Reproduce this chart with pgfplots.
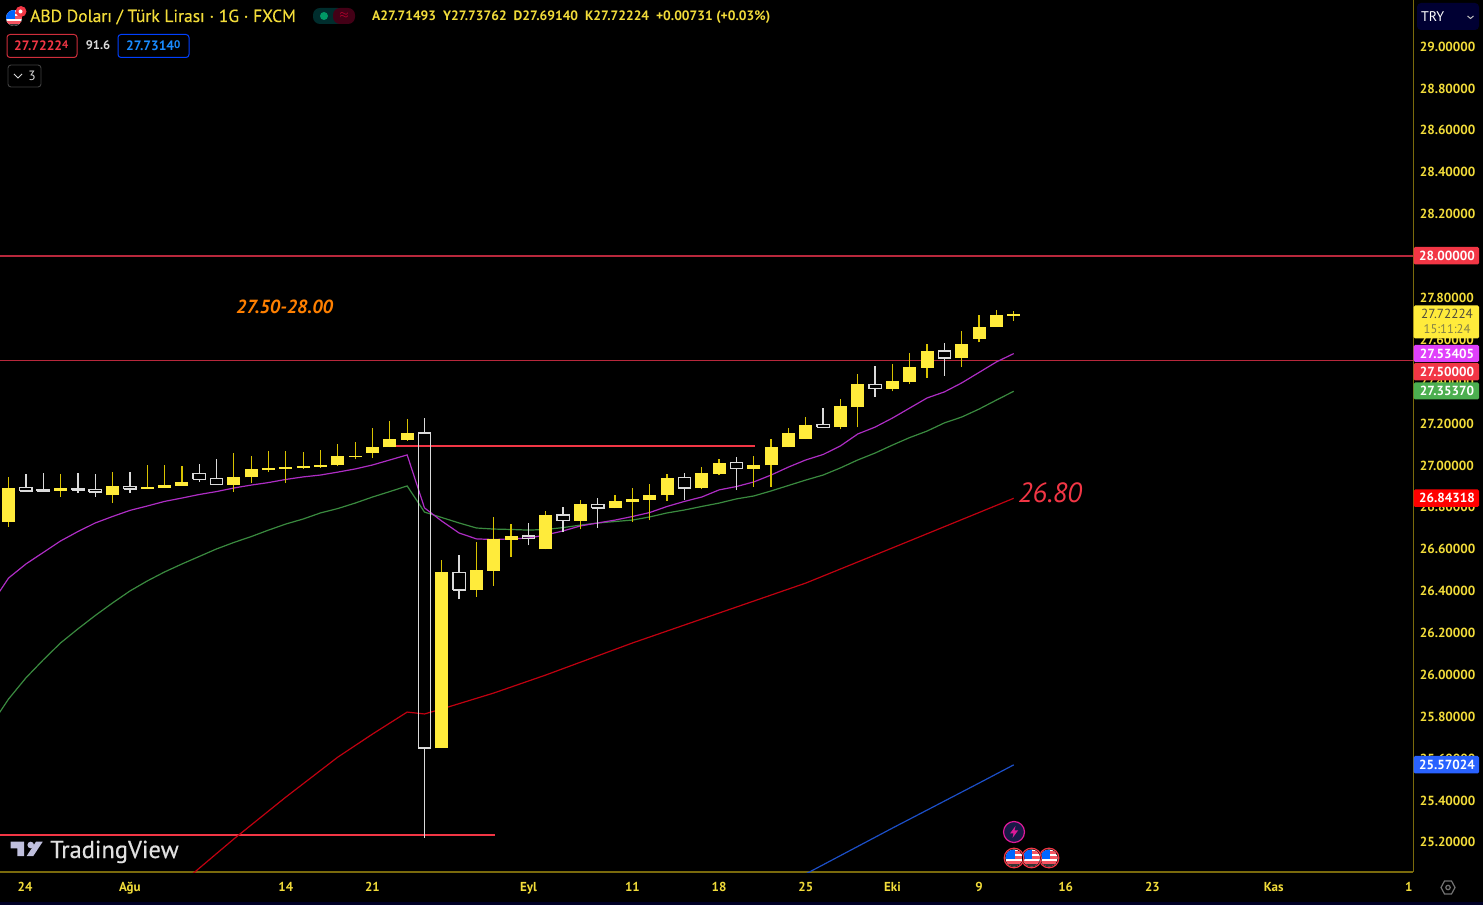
\documentclass[border=0pt]{standalone}
\usepackage{fontspec}
\setmainfont{PT Sans}
\usepackage{pgfplots}
\pgfplotsset{compat=1.18}
\definecolor{gold}{HTML}{F2DC3A}
\definecolor{axisgold}{HTML}{7A6A0C}
\definecolor{body}{HTML}{FFEB3B}
\definecolor{wick}{HTML}{D8C200}
\definecolor{hollow}{HTML}{DADADA}
\definecolor{tvred}{HTML}{F23645}
\definecolor{levelred}{HTML}{B8283C}
\definecolor{emared}{HTML}{C00010}
\definecolor{emapurple}{HTML}{AE2DC4}
\definecolor{emagreen}{HTML}{3A8A3F}
\definecolor{emablue}{HTML}{1C4FC8}
\definecolor{tagpurple}{HTML}{E040FB}
\definecolor{taggreen}{HTML}{4CAF50}
\definecolor{tagblue}{HTML}{2962FF}
\newcommand{\fs}[1]{\fontsize{#1}{#1}\selectfont}
\newcommand{\usflag}[3]{%
 \begin{scope}
  \clip (#1,#2) circle (#3pt);
  \fill[white] (#1,#2) circle (#3pt);
  \fill[tvred!85] (#1-#3,#2-0.2*#3) rectangle (#1+#3,#2+0.1*#3);
  \fill[tvred!85] (#1-#3,#2+0.4*#3) rectangle (#1+#3,#2+0.7*#3);
  \fill[tvred!85] (#1-#3,#2-0.8*#3) rectangle (#1+#3,#2-0.5*#3);
  \fill[black!80] (#1-#3,#2+0.72*#3) rectangle (#1+#3,#2+#3);
  \fill[blue!60!cyan] (#1-#3,#2-#3) rectangle (#1+0.1*#3,#2+0.1*#3);
 \end{scope}}
\begin{document}
\begin{tikzpicture}
\fill[black] (0,0) rectangle (1483pt,905pt);
\useasboundingbox (0,0) rectangle (1483pt,905pt);
\begin{axis}[
  at={(0pt,33pt)}, anchor=south west,
  scale only axis, width=1413pt, height=872pt,
  xmin=-1.4927, xmax=80.04, ymin=25.0583, ymax=29.2225,
  axis x line=bottom, axis y line=right,
  axis line style={draw=axisgold, line width=1.1pt, -},
  major tick length=0pt,
  unbounded coords=jump,
  xtick={-0.05,6,15,20,29,35,40,45,50,55,60,65,72,79.8},
  xticklabels={24,Ağu,14,21,Eyl,11,18,25,Eki,9,16,23,Kas,1},
  xticklabel style={font=\bfseries\fs{13}, text=gold, yshift=-6.5pt},
  ytick={25.2,25.4,25.6,25.8,26.0,26.2,26.4,26.6,26.8,27.0,27.2,27.4,27.6,27.8,28.0,28.2,28.4,28.6,28.8,29.0},
  yticklabel style={font=\bfseries\fs{13.2}, text=gold, xshift=3.2pt,
    /pgf/number format/.cd, fixed, fixed zerofill, precision=5, assume math mode=true},
  clip=true, no markers,
]
% horizontal levels
\addplot[draw=levelred, line width=1.2pt] coordinates {(-1.4927,28.0) (80.04,28.0)};
\addplot[draw=levelred, line width=1.2pt] coordinates {(-1.4927,27.5) (80.04,27.5)};
\addplot[draw=tvred, line width=1.7pt] coordinates {(21,27.093) (42.06,27.093)};
\addplot[draw=tvred, line width=1.7pt] coordinates {(-1.4927,25.236) (27.06,25.236)};
% moving averages
\addplot[draw=emared, line width=1.2pt] coordinates {(9,25.006) (12,25.216) (15,25.416) (18,25.607) (20,25.717) (22,25.822) (23,25.813) (24,25.837) (27,25.913) (30,25.999) (35,26.152) (40,26.295) (45,26.438) (50,26.606) (55,26.775) (57,26.843)};
\addplot[draw=emablue, line width=1.2pt] coordinates {(45,25.049) (50,25.268) (55,25.483) (57,25.570)};
\addplot[draw=emagreen, line width=1.2pt] coordinates {(-2,25.760) (-1,25.884) (0,25.985) (1,26.071) (2,26.152) (3,26.219) (4,26.283) (5,26.343) (6,26.400) (7,26.448) (8,26.491) (9,26.529) (10,26.565) (11,26.601) (12,26.632) (13,26.660) (14,26.691) (15,26.720) (16,26.744) (17,26.773) (18,26.794) (19,26.820) (20,26.849) (21,26.875) (22,26.902) (23,26.777) (24,26.751) (25,26.725) (26,26.701) (27,26.696) (28,26.694) (29,26.691) (30,26.694) (31,26.703) (32,26.715) (33,26.725) (34,26.732) (35,26.739) (36,26.754) (37,26.773) (38,26.787) (39,26.804) (40,26.820) (41,26.840) (42,26.854) (43,26.878) (44,26.904) (45,26.930) (46,26.954) (47,26.988) (48,27.026) (49,27.059) (50,27.097) (51,27.133) (52,27.164) (53,27.203) (54,27.231) (55,27.269) (56,27.312) (57,27.354)};
\addplot[draw=emapurple, line width=1.2pt] coordinates {(-2,26.338) (-1,26.462) (0,26.529) (1,26.584) (2,26.639) (3,26.684) (4,26.725) (5,26.756) (6,26.785) (7,26.806) (8,26.828) (9,26.844) (10,26.861) (11,26.875) (12,26.892) (13,26.906) (14,26.918) (15,26.933) (16,26.945) (17,26.954) (18,26.968) (19,26.983) (20,27.002) (21,27.026) (22,27.050) (23,26.797) (24,26.734) (25,26.677) (26,26.649) (27,26.646) (28,26.649) (29,26.653) (30,26.668) (31,26.687) (32,26.711) (33,26.725) (34,26.739) (35,26.756) (36,26.775) (37,26.804) (38,26.828) (39,26.849) (40,26.883) (41,26.899) (42,26.921) (43,26.954) (44,26.992) (45,27.026) (46,27.052) (47,27.093) (48,27.150) (49,27.183) (50,27.226) (51,27.274) (52,27.322) (53,27.351) (54,27.394) (55,27.444) (56,27.494) (57,27.534)};
% yellow candles: wicks (low, high)
\addplot[draw=wick, line width=1.3pt] coordinates {
(-1,26.707) (-1,26.943) (-1,nan)
(2,26.851) (2,26.959) (2,nan)
(5,26.822) (5,26.967) (5,nan)
(7,26.887) (7,27.002) (7,nan)
(8,26.891) (8,27.002) (8,nan)
(9,26.903) (9,26.999) (9,nan)
(12,26.873) (12,27.059) (12,nan)
(13,26.917) (13,27.043) (13,nan)
(14,26.968) (14,27.069) (14,nan)
(15,26.915) (15,27.069) (15,nan)
(16,26.984) (16,27.064) (16,nan)
(17,26.989) (17,27.074) (17,nan)
(18,26.999) (18,27.101) (18,nan)
(19,27.029) (19,27.110) (19,nan)
(20,27.034) (20,27.177) (20,nan)
(21,27.086) (21,27.212) (21,nan)
(22,27.117) (22,27.222) (22,nan)
(24,25.650) (24,26.547) (24,nan)
(26,26.373) (26,26.633) (26,nan)
(27,26.425) (27,26.755) (27,nan)
(28,26.564) (28,26.719) (28,nan)
(30,26.599) (30,26.784) (30,nan)
(32,26.695) (32,26.835) (32,nan)
(34,26.795) (34,26.860) (34,nan)
(35,26.731) (35,26.891) (35,nan)
(36,26.739) (36,26.911) (36,nan)
(37,26.830) (37,26.958) (37,nan)
(39,26.887) (39,26.994) (39,nan)
(40,26.953) (40,27.031) (40,nan)
(42,26.898) (42,27.045) (42,nan)
(43,26.898) (43,27.125) (43,nan)
(44,27.086) (44,27.177) (44,nan)
(45,27.126) (45,27.233) (45,nan)
(47,27.172) (47,27.319) (47,nan)
(48,27.182) (48,27.435) (48,nan)
(50,27.354) (50,27.486) (50,nan)
(51,27.389) (51,27.537) (51,nan)
(52,27.419) (52,27.578) (52,nan)
(54,27.471) (54,27.643) (54,nan)
(55,27.588) (55,27.720) (55,nan)
(56,27.661) (56,27.741) (56,nan)
(57,27.691) (57,27.738) (57,nan)
};
% yellow candles: bodies (lower, upper)
\addplot[draw=body, line width=13pt, line cap=butt] coordinates {
(-1,26.730) (-1,26.891) (-1,nan)
(2,26.878) (2,26.891) (2,nan)
(5,26.857) (5,26.900) (5,nan)
(7,26.887) (7,26.897) (7,nan)
(8,26.892) (8,26.906) (8,nan)
(9,26.903) (9,26.922) (9,nan)
(12,26.908) (12,26.946) (12,nan)
(13,26.943) (13,26.981) (13,nan)
(14,26.978) (14,26.988) (14,nan)
(15,26.984) (15,26.992) (15,nan)
(16,26.989) (16,26.999) (16,nan)
(17,26.994) (17,27.003) (17,nan)
(18,27.000) (18,27.043) (18,nan)
(19,27.039) (19,27.043) (19,nan)
(20,27.061) (20,27.089) (20,nan)
(21,27.086) (21,27.125) (21,nan)
(22,27.121) (22,27.156) (22,nan)
(24,25.650) (24,26.489) (24,nan)
(26,26.405) (26,26.499) (26,nan)
(27,26.497) (27,26.647) (27,nan)
(28,26.644) (28,26.663) (28,nan)
(30,26.599) (30,26.763) (30,nan)
(32,26.736) (32,26.814) (32,nan)
(34,26.795) (34,26.830) (34,nan)
(35,26.827) (35,26.841) (35,nan)
(36,26.836) (36,26.860) (36,nan)
(37,26.857) (37,26.941) (37,nan)
(39,26.891) (39,26.962) (39,nan)
(40,26.959) (40,27.013) (40,nan)
(42,26.984) (42,27.002) (42,nan)
(43,27.000) (43,27.089) (43,nan)
(44,27.086) (44,27.155) (44,nan)
(45,27.126) (45,27.194) (45,nan)
(47,27.183) (47,27.282) (47,nan)
(48,27.279) (48,27.389) (48,nan)
(50,27.365) (50,27.404) (50,nan)
(51,27.400) (51,27.470) (51,nan)
(52,27.467) (52,27.546) (52,nan)
(54,27.513) (54,27.581) (54,nan)
(55,27.604) (55,27.662) (55,nan)
(56,27.661) (56,27.718) (56,nan)
(57,27.715) (57,27.722) (57,nan)
};
% hollow candles: wicks
\addplot[draw=hollow, line width=1.3pt] coordinates {
(0,26.895) (0,26.959) (0,nan)
(1,26.882) (1,26.962) (1,nan)
(3,26.867) (3,26.882) (3,nan) (3,26.891) (3,26.962) (3,nan)
(4,26.851) (4,26.873) (4,nan) (4,26.886) (4,26.957) (4,nan)
(6,26.867) (6,26.887) (6,nan) (6,26.900) (6,26.967) (6,nan)
(10,26.922) (10,26.934) (10,nan) (10,26.960) (10,27.008) (10,nan)
(11,26.936) (11,27.029) (11,nan)
(23,25.221) (23,25.650) (23,nan) (23,27.155) (23,27.226) (23,nan)
(25,26.360) (25,26.405) (25,nan) (25,26.489) (25,26.572) (25,nan)
(29,26.618) (29,26.650) (29,nan) (29,26.663) (29,26.723) (29,nan)
(31,26.683) (31,26.736) (31,nan) (31,26.763) (31,26.803) (31,nan)
(33,26.700) (33,26.797) (33,nan) (33,26.814) (33,26.846) (33,nan)
(38,26.835) (38,26.892) (38,nan) (38,26.941) (38,26.962) (38,nan)
(41,26.882) (41,26.984) (41,nan) (41,27.013) (41,27.039) (41,nan)
(46,27.194) (46,27.273) (46,nan)
(49,27.328) (49,27.366) (49,nan) (49,27.387) (49,27.475) (49,nan)
(53,27.428) (53,27.513) (53,nan) (53,27.546) (53,27.583) (53,nan)
};
% hollow candles: bodies
\addplot[draw=hollow, line width=1.3pt] coordinates {
(-0.36,26.878) (0.36,26.878) (0.36,26.895) (-0.36,26.895) (-0.36,26.878) (0,nan)
(0.64,26.878) (1.36,26.878) (1.36,26.882) (0.64,26.882) (0.64,26.878) (1,nan)
(2.64,26.882) (3.36,26.882) (3.36,26.891) (2.64,26.891) (2.64,26.882) (3,nan)
(3.64,26.873) (4.36,26.873) (4.36,26.886) (3.64,26.886) (3.64,26.873) (4,nan)
(5.64,26.887) (6.36,26.887) (6.36,26.900) (5.64,26.900) (5.64,26.887) (6,nan)
(9.64,26.934) (10.36,26.934) (10.36,26.960) (9.64,26.960) (9.64,26.934) (10,nan)
(10.64,26.910) (11.36,26.910) (11.36,26.936) (10.64,26.936) (10.64,26.910) (11,nan)
(22.64,25.650) (23.36,25.650) (23.36,27.155) (22.64,27.155) (22.64,25.650) (23,nan)
(24.64,26.405) (25.36,26.405) (25.36,26.489) (24.64,26.489) (24.64,26.405) (25,nan)
(28.64,26.650) (29.36,26.650) (29.36,26.663) (28.64,26.663) (28.64,26.650) (29,nan)
(30.64,26.736) (31.36,26.736) (31.36,26.763) (30.64,26.763) (30.64,26.736) (31,nan)
(32.64,26.797) (33.36,26.797) (33.36,26.814) (32.64,26.814) (32.64,26.797) (33,nan)
(37.64,26.892) (38.36,26.892) (38.36,26.941) (37.64,26.941) (37.64,26.892) (38,nan)
(40.64,26.984) (41.36,26.984) (41.36,27.013) (40.64,27.013) (40.64,26.984) (41,nan)
(45.64,27.182) (46.36,27.182) (46.36,27.194) (45.64,27.194) (45.64,27.182) (46,nan)
(48.64,27.366) (49.36,27.366) (49.36,27.387) (48.64,27.387) (48.64,27.366) (49,nan)
(52.64,27.513) (53.36,27.513) (53.36,27.546) (52.64,27.546) (52.64,27.513) (53,nan)
};
\end{axis}
\begin{scope}[yshift=905pt, x=1pt, y=-1pt]
% bottom band
\fill[black!85!blue] (0,902) rectangle (1483,905);
% annotation texts
\node[anchor=base west, inner sep=0, text=orange] at (236,313.5) {\fs{19}\bfseries\itshape 27.50-28.00};
\node[anchor=base west, inner sep=0, text=tvred] at (1018,503) {\fs{27.8}\itshape 26.80};
% TradingView logo
\fill[black!15!white!88!blue] (10.7,841.7) -- (24,841.7) -- (24,856) -- (17.3,856) -- (17.3,848.3) -- (10.7,848.3) -- cycle;
\fill[black!15!white!88!blue] (30.7,845) circle (3.3pt);
\fill[black!15!white!88!blue] (36,841.7) -- (42.7,841.7) -- (33.3,856) -- (26.7,856) -- cycle;
\node[anchor=base west, inner sep=0, text=black!12!white] at (50,858) {\fs{24.5}\addfontfeature{FakeBold=0.5}TradingView};
% header
\usflag{14}{18}{8}
\fill[tvred] (21,11.5) circle (5.5pt);
\fill[white] (20.5,11.5) circle (2pt);
\node[anchor=base west, inner sep=0, text=gold] at (30,22) {\fs{17.5}\addfontfeature{FakeBold=0.3}ABD Doları / Türk Lirası · 1G · FXCM};
\fill[teal!35!black, rounded corners=7pt] (313,8) rectangle (345,24);
\fill[purple!35!black, rounded corners=7pt] (333,8) rectangle (355,24);
\fill[teal!80!green] (324,16) circle (4pt);
\node[inner sep=0, text=purple!80!red] at (344,15.5) {\fs{13}\bfseries $\approx$};
\node[anchor=base west, inner sep=0, text=gold] at (372,21) {\fs{13.6}\bfseries A27.71493\ \ Y27.73762\ \ D27.69140\ \ K27.72224\ \ +0.00731 (+0.03\%)};
\draw[tvred!85!black, line width=1pt, rounded corners=3pt] (7,34.5) rectangle (77,57.5);
\node[anchor=base west, inner sep=0, text=tvred] at (14,50.5) {\fs{13.6}\bfseries 27.7222\raisebox{1.5pt}{\fs{11}4}};
\node[anchor=base, inner sep=0, text=black!15!white] at (98,50) {\fs{12.5}\bfseries 91.6};
\draw[blue!75!cyan, line width=1pt, rounded corners=3pt] (118,34.5) rectangle (189,57.5);
\node[anchor=base west, inner sep=0, text=blue!50!cyan!90!white] at (126,50.5) {\fs{13.6}\bfseries 27.7314\raisebox{1.5pt}{\fs{11}0}};
\draw[black!75!white, line width=.9pt, rounded corners=3pt] (8,65) rectangle (41,87);
\draw[black!15!white, line width=1pt] (14,74) -- (18,78) -- (22,74);
\node[anchor=base, inner sep=0, text=black!15!white] at (32,81) {\fs{13.5}3};
% currency selector
\fill[black!80!blue, rounded corners=4pt] (1417,3) rectangle (1479,30);
\node[anchor=base west, inner sep=0, text=white] at (1421,21.5) {\fs{14}TRY};
\draw[black!25!white, line width=1pt] (1467.5,16) -- (1470.5,18.5) -- (1473.5,16);
% price tags
\newcommand{\tag}[4]{\fill[#1, rounded corners=1.5pt] (1413.5,#2) rectangle (1479,#3);
 \node[anchor=base, inner sep=0, text=white] at (1447,#2/2+#3/2+4.6) {\fs{13.2}\bfseries #4};}
\tag{tvred}{247}{264.5}{28.00000}
\fill[body, rounded corners=1.5pt] (1413.5,305.5) rectangle (1479,338.5);
\node[anchor=base, inner sep=0, text=black!80!yellow] at (1447,319) {\fs{13.2}27.72224};
\node[anchor=base, inner sep=0, text=black!55!yellow] at (1447,334) {\fs{12.6}15:11:24};
\tag{tagpurple}{345}{362}{27.53405}
\tag{tvred}{363}{380.5}{27.50000}
\tag{taggreen}{382.5}{399.5}{27.35370}
\tag{red}{489.5}{507}{26.84318}
\tag{tagblue}{756}{773.5}{25.57024}
% event icons
\fill[black!80!blue!90!white] (1014,832) circle (10.5pt);
\draw[purple!60!magenta!90!white, line width=1.2pt] (1014,832) circle (10.5pt);
\fill[purple!60!magenta!90!white] (1015.5,826) -- (1010,833.5) -- (1013.5,833.5) -- (1012.5,838) -- (1018,830.5) -- (1014.5,830.5) -- cycle;
\foreach \fx in {1049,1031.5,1014}{%
 \fill[black] (\fx,858) circle (10.5pt);
 \usflag{\fx}{858}{8.5}
 \draw[tvred, line width=1.2pt] (\fx,858) circle (9.8pt);
}
% settings hexagon
\draw[black!55!white, line width=1.2pt] (1441,887.5) -- (1444.5,881) -- (1451.5,881) -- (1455,887.5) -- (1451.5,894) -- (1444.5,894) -- cycle;
\draw[black!55!white, line width=1.2pt] (1448,887.5) circle (2.2pt);
\end{scope}
\end{tikzpicture}
\end{document}
